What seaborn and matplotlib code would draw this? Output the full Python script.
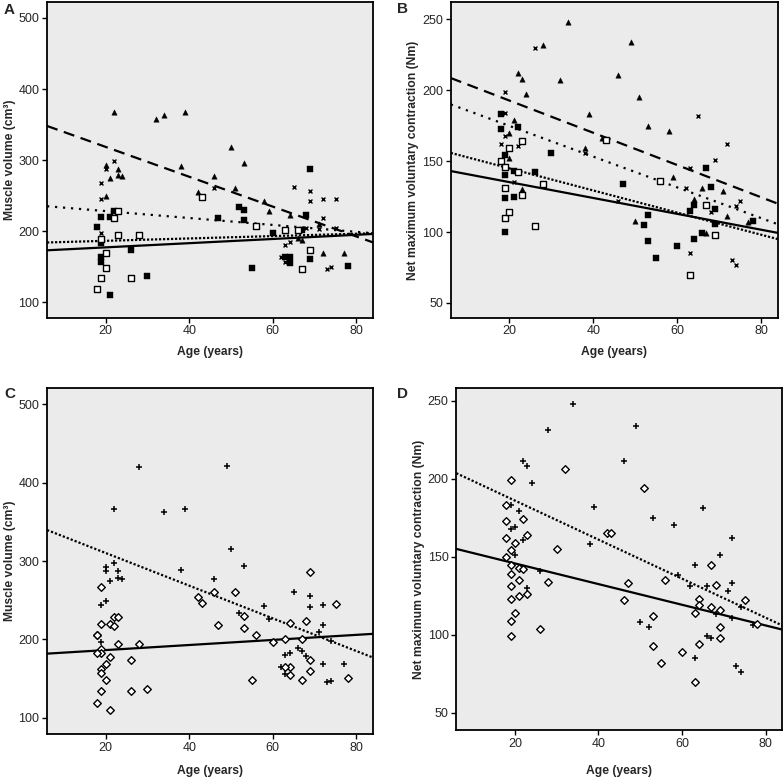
import matplotlib
matplotlib.use('Agg')
import matplotlib.pyplot as plt
import seaborn as sns

sns.set_style('white')
plt.rcParams['font.family'] = ['Liberation Sans', 'DejaVu Sans']

# ---------------- Panel A: muscle volume, four groups ----------------
a_tri_age = [22, 32, 34, 39, 20, 21, 23, 23, 24, 20, 38, 42, 46, 50, 51, 53, 58, 59, 64, 67, 72, 77, 71, 66]
a_tri_vol = [367, 358, 364, 368, 293, 275, 288, 279, 278, 249, 291, 255, 278, 318, 261, 296, 243, 228, 223, 187, 169, 169, 210, 190]
a_x_age = [22, 19, 19, 19, 20, 46, 65, 69, 69, 72, 75, 72, 63, 64, 62, 63, 73, 74, 71, 75, 68]
a_x_vol = [299, 268, 245, 197, 288, 261, 262, 256, 242, 245, 245, 218, 181, 184, 163, 156, 146, 149, 203, 204, 204]
a_fsq_age = [19, 18, 21, 22, 19, 19, 19, 21, 26, 30, 47, 52, 53, 53, 55, 60, 63, 64, 64, 68, 67, 69, 69, 78]
a_fsq_vol = [220, 206, 220, 229, 183, 163, 157, 110, 174, 137, 219, 234, 230, 216, 148, 198, 164, 164, 155, 222, 202, 287, 161, 151]
a_osq_age = [23, 22, 19, 20, 20, 19, 18, 23, 28, 26, 43, 56, 63, 67, 69, 66]
a_osq_vol = [229, 218, 189, 169, 148, 134, 119, 194, 194, 134, 248, 207, 202, 147, 174, 201]

# ---------------- Panel B: net MVC, four groups ----------------
b_tri_age = [34, 28, 49, 22, 23, 24, 32, 46, 51, 39, 53, 58, 21, 20, 20, 38, 42, 59, 66, 64, 71, 72, 50, 67, 77, 23]
b_tri_mvc = [248, 232, 234, 212, 208, 197, 207, 211, 195, 183, 175, 171, 179, 170, 152, 159, 166, 139, 131, 123, 129, 111, 108, 99, 107, 130]
b_x_age = [26, 19, 19, 19, 18, 22, 21, 65, 72, 69, 63, 62, 68, 74, 75, 63, 73, 74, 38, 46]
b_x_mvc = [230, 199, 184, 168, 162, 161, 135, 182, 162, 151, 145, 131, 114, 118, 122, 85, 80, 77, 156, 122]
b_fsq_age = [18, 18, 19, 19, 19, 19, 22, 21, 21, 26, 30, 47, 53, 52, 53, 55, 60, 67, 68, 69, 63, 64, 66, 64, 69, 78]
b_fsq_mvc = [183, 173, 154, 140, 124, 100, 174, 143, 125, 142, 156, 134, 112, 105, 94, 82, 90, 145, 132, 116, 115, 119, 99, 95, 106, 108]
b_osq_age = [18, 19, 20, 23, 22, 19, 23, 19, 20, 26, 28, 43, 56, 67, 69, 63]
b_osq_mvc = [150, 146, 159, 164, 142, 131, 126, 110, 114, 104, 134, 165, 136, 119, 98, 70]

# ---------------- Panel C: muscle volume, two groups ----------------
c_plus_age = [28, 49, 22, 34, 39, 50, 53, 22, 20, 20, 23, 23, 24, 21, 38, 46, 20, 19, 65, 69,
              69, 72, 58, 59, 52, 72, 71, 74, 19, 66, 67, 68, 63, 64, 62, 72, 77, 73, 74, 63]
c_plus_vol = [420, 421, 366, 363, 366, 316, 294, 298, 292, 287, 287, 278, 277, 274, 289, 277, 249, 244, 261, 255,
              241, 244, 242, 226, 233, 218, 209, 198, 196, 189, 185, 179, 180, 183, 164, 168, 168, 145, 147, 156]
c_dia_age = [19, 19, 22, 23, 21, 22, 18, 18, 23, 28, 19, 19, 18, 21, 19, 19, 20, 20, 19, 18, 21, 26, 26, 30,
             42, 43, 46, 51, 47, 53, 53, 56, 55, 60, 63, 64, 68, 69, 75, 67, 69, 69, 64, 63, 64, 67, 78]
c_dia_vol = [267, 220, 229, 229, 220, 217, 206, 206, 194, 194, 188, 182, 183, 177, 162, 157, 169, 148, 134, 119, 110, 173, 134, 136,
             254, 247, 260, 260, 218, 230, 215, 206, 148, 197, 201, 221, 223, 286, 245, 201, 174, 160, 164, 164, 155, 148, 151]

# ---------------- Panel D: net MVC, two groups ----------------
d_plus_age = [34, 28, 49, 22, 23, 24, 46, 39, 53, 58, 65, 72, 69, 63, 21, 19, 20, 22, 20, 38,
              59, 62, 66, 71, 72, 74, 23, 26, 50, 52, 63, 73, 74, 66, 67, 68, 72, 77, 19]
d_plus_mvc = [248, 231, 234, 211, 208, 197, 211, 182, 175, 170, 181, 162, 151, 145, 179, 168, 169, 161, 151, 158,
              138, 131, 131, 128, 133, 118, 130, 141, 108, 105, 85, 80, 76, 99, 98, 113, 111, 106, 183]
d_dia_age = [19, 32, 51, 18, 18, 18, 22, 23, 20, 19, 18, 19, 21, 22, 19, 19, 21, 19, 21, 23, 20, 19, 19, 26,
             30, 28, 42, 43, 47, 46, 53, 53, 55, 60, 56, 67, 68, 64, 64, 63, 67, 69, 69, 69, 64, 63, 75, 78]
d_dia_mvc = [199, 206, 194, 183, 173, 162, 174, 164, 159, 154, 150, 145, 143, 142, 139, 131, 135, 123, 125, 126, 114, 109, 99, 104,
             155, 134, 165, 165, 133, 122, 112, 93, 82, 89, 135, 145, 132, 123, 119, 114, 118, 116, 105, 98, 94, 70, 122, 107]

# ---------------- Fitted regression lines (values at age 6 and age 84) ----------------
fit_age = [6, 84]
a_tri_fit = [348, 184]
a_x_fit = [235, 197]
a_osq_fit = [184, 197]
a_fsq_fit = [173, 196]
b_tri_fit = [208.6, 120]
b_x_fit = [190, 105.5]
b_osq_fit = [155.8, 95]
b_fsq_fit = [143, 99.4]
c_plus_fit = [339.6, 176.6]
c_dia_fit = [181.7, 207]
d_plus_fit = [203.5, 105.9]
d_dia_fit = [155, 103.3]

BG = '#ebebeb'
fig = plt.figure(figsize=(7.84, 7.77), dpi=100)
axA = fig.add_axes([0.060, 0.591, 0.416, 0.406])
axB = fig.add_axes([0.575, 0.591, 0.417, 0.406])
axC = fig.add_axes([0.060, 0.0553, 0.416, 0.4453])
axD = fig.add_axes([0.582, 0.0605, 0.416, 0.440])


def style(ax, ylim, yticks, ylabel, xpad):
    ax.set_facecolor(BG)
    ax.set_xlim(6, 84)
    ax.set_ylim(*ylim)
    ax.set_xticks([20, 40, 60, 80])
    ax.set_yticks(yticks)
    for s in ax.spines.values():
        s.set_visible(True)
        s.set_color('black')
        s.set_linewidth(1.3)
    ax.tick_params(direction='out', length=3.5, width=1, labelsize=9, color='black',
                   left=True, bottom=True, pad=2)
    ax.set_xlabel('Age (years)', fontsize=8.7, fontweight='bold', labelpad=xpad)
    ax.set_ylabel(ylabel, fontsize=8.7, fontweight='bold', labelpad=2)


def fitline(ax, y, ls):
    sns.lineplot(x=fit_age, y=y, color='black', linewidth=1.6, linestyle=ls, ax=ax, zorder=2)


def pts(ax, x, y, kind):
    if kind == 'tri':
        sns.scatterplot(x=x, y=y, marker='^', s=15, color='black', edgecolor='black', linewidth=0.3, ax=ax, zorder=3)
    elif kind == 'x':
        sns.scatterplot(x=x, y=y, marker='x', s=8, color='black', linewidth=1.0, ax=ax, zorder=3)
    elif kind == 'fsq':
        sns.scatterplot(x=x, y=y, marker='s', s=20, color='black', edgecolor='black', linewidth=0.3, ax=ax, zorder=3)
    elif kind == 'osq':
        sns.scatterplot(x=x, y=y, marker='s', s=15, color='white', edgecolor='black', linewidth=1.0, ax=ax, zorder=3)
    elif kind == 'plus':
        sns.scatterplot(x=x, y=y, marker='+', s=13, color='black', linewidth=1.1, ax=ax, zorder=3)
    elif kind == 'dia':
        sns.scatterplot(x=x, y=y, marker='D', s=15, color='white', edgecolor='black', linewidth=1.0, ax=ax, zorder=3)


vol_label = 'Muscle volume (cm³)'
mvc_label = 'Net maximum voluntary contraction (Nm)'

dashed = (0, (5, 3))
sparse_dot = (0, (1, 2.6))
dense_dot = (0, (1, 0.8))
c_dot = (0, (1, 0.9))

# Panel A
style(axA, (78, 522), [100, 200, 300, 400, 500], vol_label, 6)
fitline(axA, a_tri_fit, dashed)
fitline(axA, a_x_fit, sparse_dot)
fitline(axA, a_osq_fit, dense_dot)
fitline(axA, a_fsq_fit, '-')
pts(axA, a_tri_age, a_tri_vol, 'tri')
pts(axA, a_x_age, a_x_vol, 'x')
pts(axA, a_fsq_age, a_fsq_vol, 'fsq')
pts(axA, a_osq_age, a_osq_vol, 'osq')

# Panel B
style(axB, (39.5, 262), [50, 100, 150, 200, 250], mvc_label, 6)
fitline(axB, b_tri_fit, dashed)
fitline(axB, b_x_fit, sparse_dot)
fitline(axB, b_osq_fit, dense_dot)
fitline(axB, b_fsq_fit, '-')
pts(axB, b_tri_age, b_tri_mvc, 'tri')
pts(axB, b_x_age, b_x_mvc, 'x')
pts(axB, b_fsq_age, b_fsq_mvc, 'fsq')
pts(axB, b_osq_age, b_osq_mvc, 'osq')

# Panel C
style(axC, (79, 521), [100, 200, 300, 400, 500], vol_label, 8)
fitline(axC, c_plus_fit, c_dot)
fitline(axC, c_dia_fit, '-')
pts(axC, c_plus_age, c_plus_vol, 'plus')
pts(axC, c_dia_age, c_dia_vol, 'dia')

# Panel D
style(axD, (39, 258), [50, 100, 150, 200, 250], mvc_label, 11)
fitline(axD, d_plus_fit, c_dot)
fitline(axD, d_dia_fit, '-')
pts(axD, d_plus_age, d_plus_mvc, 'plus')
pts(axD, d_dia_age, d_dia_mvc, 'dia')

for ax in (axA, axB, axC, axD):
    ax.set_xlim(6, 84)
    leg = ax.get_legend()
    if leg is not None:
        leg.remove()

fig.text(4 / 784, 1 - 10 / 777, 'A', fontsize=11, fontweight='bold', va='center', ha='left')
fig.text(397 / 784, 1 - 9 / 777, 'B', fontsize=11, fontweight='bold', va='center', ha='left')
fig.text(4 / 784, 1 - 394 / 777, 'C', fontsize=11, fontweight='bold', va='center', ha='left')
fig.text(397 / 784, 1 - 394 / 777, 'D', fontsize=11, fontweight='bold', va='center', ha='left')

fig.savefig('out.png', dpi=100, facecolor='white')
